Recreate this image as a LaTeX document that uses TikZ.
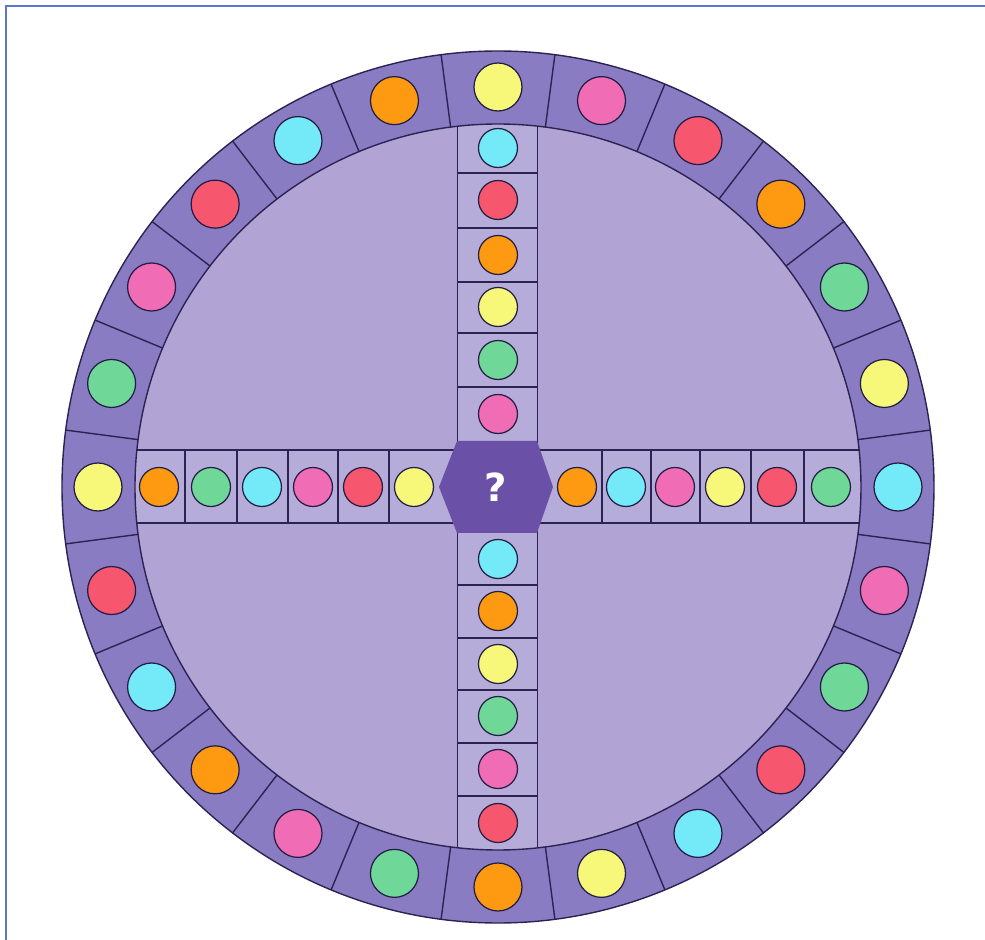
\documentclass[tikz,border=0pt]{standalone}
\usepackage{fontspec}
\setmainfont{DejaVu Sans}
\definecolor{ringc}{HTML}{8A7CC3}
\definecolor{discc}{HTML}{B1A3D3}
\definecolor{cellc}{HTML}{B6ACD9}
\definecolor{linec}{HTML}{2B2452}
\definecolor{hexc}{HTML}{6A50A6}
\definecolor{dyellow}{HTML}{F7F77A}
\definecolor{dpink}{HTML}{F06DB5}
\definecolor{dred}{HTML}{F7566F}
\definecolor{dorange}{HTML}{FD9A12}
\definecolor{dgreen}{HTML}{6FD898}
\definecolor{dcyan}{HTML}{74E9F7}
\definecolor{framec}{HTML}{5A78CC}
\tikzset{
  bigdot/.style={circle, draw=linec!80!black, line width=0.7pt, minimum size=0.96cm, inner sep=0pt},
  celldot/.style={circle, draw=linec!80!black, line width=0.7pt, minimum size=0.78cm, inner sep=0pt},
  divline/.style={draw=linec, line width=0.8pt},
  qmark/.style={text=white, font=\bfseries\fontsize{22}{24}\selectfont, inner sep=0pt}
}
\begin{document}
\begin{tikzpicture}[x=0.02cm,y=0.02cm]
\useasboundingbox (-498,-453) rectangle (487,487);
% frame
\draw[framec, line width=1.6pt] (-492,-460) -- (-492,481) -- (495,481);
% ring
\fill[ringc] (0,0) circle (436);
\fill[discc] (0,0) circle (363);
% arms
\begin{scope}
  \clip (0,0) circle (363);
  \fill[cellc] (-40.5,-400) rectangle (39.5,400);
  \fill[cellc] (-400,-36) rectangle (400,37);
  \draw[divline] (-40.5,-400) -- (-40.5,400);
  \draw[divline] (39.5,-400) -- (39.5,400);
  \draw[divline] (-400,-36) -- (400,-36);
  \draw[divline] (-400,37) -- (400,37);
\end{scope}
% cell dividers
\foreach \y in {314,259,205,154,100,-98,-151,-203,-256,-309}
  \draw[divline] (-40.5,\y) -- (39.5,\y);
\foreach \x in {-313,-261,-210,-160,-109,104,153,202,253,306}
  \draw[divline] (\x,-36) -- (\x,37);
% ring outlines and segment lines
\draw[divline] (0,0) circle (363);
\draw[divline] (0,0) circle (436);
\foreach \a in {7.5,22.5,...,352.5}
  \draw[divline] (\a:363) -- (\a:436);
% ring dots
\foreach \a/\c [count=\i] in {90/dyellow,75/dpink,60/dred,45/dorange,30/dgreen,15/dyellow,0/dcyan,-15/dpink,-30/dgreen,-45/dred,-60/dcyan,-75/dyellow,-90/dorange,-105/dgreen,-120/dpink,-135/dorange,-150/dcyan,-165/dred,180/dyellow,165/dgreen,150/dpink,135/dred,120/dcyan,105/dorange}
  \node[bigdot, fill=\c] (ring\i) at (\a:400) {};
% arm dots
\foreach \y/\c [count=\i] in {339/dcyan,287/dred,232/dorange,180/dyellow,127/dgreen,73/dpink}
  \node[celldot, fill=\c] (top\i) at (0,\y) {};
\foreach \y/\c [count=\i] in {-72/dcyan,-124/dorange,-177/dyellow,-229/dgreen,-282/dpink,-336/dred}
  \node[celldot, fill=\c] (bot\i) at (0,\y) {};
\foreach \x/\c [count=\i] in {-339/dorange,-287/dgreen,-236/dcyan,-185/dpink,-135/dred,-84/dyellow}
  \node[celldot, fill=\c] (left\i) at (\x,0) {};
\foreach \x/\c [count=\i] in {79/dorange,128/dcyan,177/dpink,227/dyellow,279/dred,333/dgreen}
  \node[celldot, fill=\c] (right\i) at (\x,0) {};
% hexagon
\fill[hexc] (-59,0) -- (-41,46) -- (39,46) -- (55,0) -- (39,-46) -- (-41,-46) -- cycle;
\node[qmark] (center) at (-2,0) {?};
\end{tikzpicture}
\end{document}
